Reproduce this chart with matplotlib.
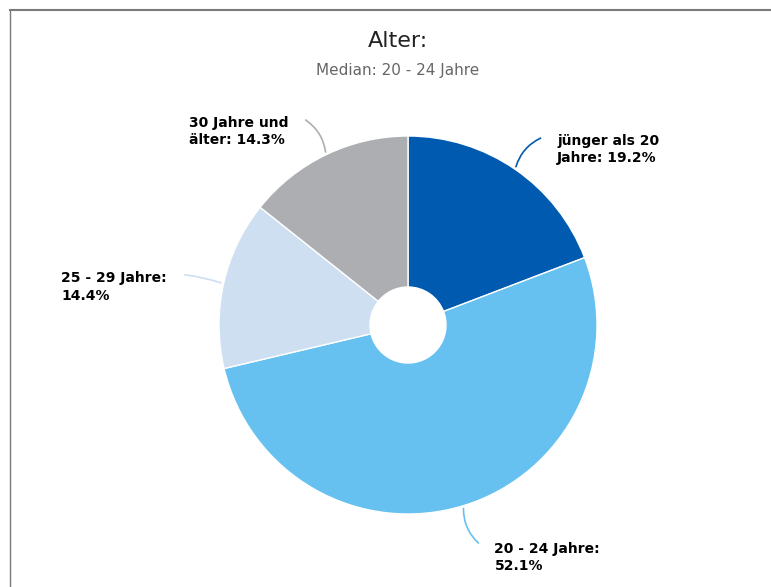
import numpy as np
import matplotlib.pyplot as plt
from matplotlib.patches import FancyArrowPatch

W, H = 771, 587

categories = ["jünger als 20 Jahre", "20 - 24 Jahre", "25 - 29 Jahre", "30 Jahre und älter"]
label_lines = ["jünger als 20\nJahre: {:.1f}%", "20 - 24 Jahre:\n{:.1f}%",
               "25 - 29 Jahre:\n{:.1f}%", "30 Jahre und\nälter: {:.1f}%"]
values = [19.2, 52.1, 14.4, 14.3]
colors = ["#005bb0", "#66c1f1", "#cddff1", "#adaeb1"]

fig = plt.figure(figsize=(W / 100, H / 100), dpi=100)
ax = fig.add_axes([0, 0, 1, 1])

# pie geometry in pixel units (y measured from bottom)
cx, cy = 408, H - 325
R = 189
hole = 38

wedges, _ = ax.pie(values, colors=colors, startangle=90, counterclock=False,
                   center=(cx, cy), radius=R,
                   wedgeprops=dict(width=R - hole, edgecolor="white", linewidth=1))
ax.set_xlim(0, W)
ax.set_ylim(0, H)
ax.set_aspect("equal")
ax.axis("off")

# leader lines + labels
for w, txt, v, col in zip(wedges, label_lines, values, colors):
    mid = np.deg2rad((w.theta1 + w.theta2) / 2)
    x0, y0 = cx + R * np.cos(mid), cy + R * np.sin(mid)
    r1 = R * 1.225
    steep = abs(np.sin(mid)) > 0.5
    # bend the end of the connector towards the horizontal
    off = -0.02 * np.sign(np.sin(mid) * np.cos(mid)) if steep else 0.0
    x1, y1 = cx + r1 * np.cos(mid + off), cy + r1 * np.sin(mid + off)
    right = np.cos(mid) > 0
    rad = 0.25 if steep else 0.06
    if right:
        rad = -rad
    if np.sin(mid) < 0:
        rad = -rad
    ax.add_patch(FancyArrowPatch((x0, y0), (x1, y1), arrowstyle="-",
                                 connectionstyle="arc3,rad=%.2f" % rad,
                                 color=col, linewidth=1.2))
    if right:
        ax.text(x1 + 14, y1 + 3, txt.format(v), ha="left", va="top",
                fontsize=10, fontweight="bold", color="black", linespacing=1.3)
    else:
        ax.text(x1 - 15, y1 + 3, txt.format(v), ha="right", va="top", multialignment="left",
                fontsize=10, fontweight="bold", color="black", linespacing=1.3)

# title and subtitle
ax.text(W / 2 + 12, H - 41, "Alter:", ha="center", va="center", fontsize=16, color="#222222")
ax.text(W / 2 + 12, H - 71, "Median: 20 - 24 Jahre", ha="center", va="center",
        fontsize=11, color="#666666")

# frame lines at top and left
ax.plot([10, W], [H - 10, H - 10], color="#7a7a7a", linewidth=1.5, clip_on=False)
ax.plot([10, 10], [H - 10, 0], color="#7a7a7a", linewidth=1.0, clip_on=False)

fig.savefig("out.png", dpi=100)
